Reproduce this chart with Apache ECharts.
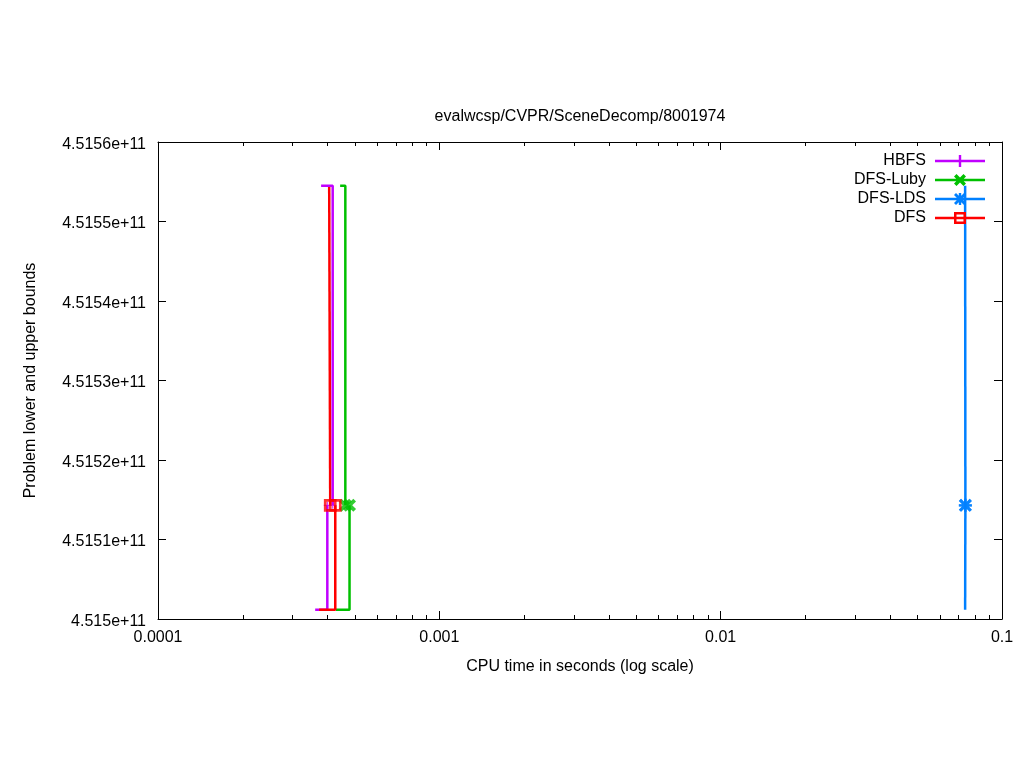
<!DOCTYPE html>
<html>
<head>
<meta charset="utf-8">
<script src="https://cdn.jsdelivr.net/npm/echarts@6/dist/echarts.min.js"></script>
<style>
html,body{margin:0;padding:0;background:#fff;}
#chart{width:1024px;height:768px;}
</style>
</head>
<body>
<div id="chart"></div>
<script>
// ---- texts ----
const chartTitle = 'evalwcsp/CVPR/SceneDecomp/8001974';
const xAxisName = 'CPU time in seconds (log scale)';
const yAxisName = 'Problem lower and upper bounds';

// ---- legend / series names & colours ----
const solverNames = ['HBFS', 'DFS-Luby', 'DFS-LDS', 'DFS'];
const solverColors = ['#c000ff', '#00c000', '#0080ff', '#ff0000'];

// ---- axes ----
const xMin = 0.0001, xMax = 0.1;
const xMinorTicks = [0.0002,0.0003,0.0004,0.0005,0.0006,0.0007,0.0008,0.0009,
                     0.002,0.003,0.004,0.005,0.006,0.007,0.008,0.009,
                     0.02,0.03,0.04,0.05,0.06,0.07,0.08,0.09];
const yMin = 451500000000, yMax = 451560000000, yStep = 10000000;

// ---- data: [time (s), bound] ----
const hbfsUpper = [[0.000380, 451554500000], [0.0004178, 451514300000]];
const hbfsLower = [[0.000362, 451501150000], [0.0003998, 451514300000]];
const lubyUpper = [[0.000444, 451554500000], [0.0004633, 451514300000]];
const lubyLower = [[0.000429, 451501150000], [0.0004795, 451514300000]];
const ldsUpper  = [[0.07395, 451554500000], [0.0741, 451514300000]];
const ldsLower  = [[0.07395, 451501150000], [0.0741, 451514300000]];
const dfsUpper  = [[0.000406, 451554500000], [0.0004094, 451514300000]];
const dfsLower  = [[0.000374, 451501150000], [0.0004267, 451514300000]];

const FONT = '"Liberation Sans", Arial, sans-serif';

// marker symbols
const plusPath = 'path://M5,0H7V12H5Z M0,5H12V7H0Z';
const crossPath = 'path://M0,2.5L2.5,0L6,3.5L9.5,0L12,2.5L8.5,6L12,9.5L9.5,12L6,8.5L2.5,12L0,9.5L3.5,6Z';
const starPath = 'path://M5,0H7V12H5Z M0,5H12V7H0Z M0,2L2,0L6,4L10,0L12,2L8,6L12,10L10,12L6,8L2,12L0,10L4,6Z';

// legend icons (50 x 12 box: line + marker)
const lineRect = 'M0,4.8H50V7.2H0Z';
const legendIcons = [
  'path://' + lineRect + ' M23.8,0H26.2V12H23.8Z',
  'path://' + lineRect + ' M19,2.5L21.5,0L25,3.5L28.5,0L31,2.5L27.5,6L31,9.5L28.5,12L25,8.5L21.5,12L19,9.5L22.5,6Z',
  'path://' + lineRect + ' M23.8,0H26.2V12H23.8Z M19,2L21,0L25,4L29,0L31,2L27,6L31,10L29,12L25,8L21,12L19,10L23,6Z',
  'path://' + lineRect + ' M19,0H31V12H19Z M21.5,2.5V9.5H28.5V2.5Z'
];

function fmtX(v) { return String(Number(v.toPrecision(6))); }
function fmtY(v) {
  let s = (v / 1e11).toFixed(4).replace(/0+$/, '').replace(/\.$/, '');
  return '{t|' + s + 'e+11}';
}

function stepLine(name, data, color, z) {
  return {
    name: name, type: 'line', data: data, step: 'end',
    symbol: 'none', showSymbol: false, silent: true, z: z,
    lineStyle: { color: color, width: 2.5 },
    itemStyle: { color: color },
    emphasis: { disabled: true }
  };
}
function markers(name, pts, color, symbol, size, z, hollow) {
  return {
    name: name, type: 'scatter', data: pts, symbol: symbol, symbolSize: size,
    silent: true, z: z,
    itemStyle: hollow ? { color: 'rgba(0,0,0,0)', borderColor: color, borderWidth: 2.7 }
                      : { color: color, borderWidth: 0 },
    emphasis: { disabled: true }
  };
}

const axisLineStyle = { show: true, onZero: false, lineStyle: { color: '#000', width: 1 } };
const tickStyle = { show: true, inside: true, length: 8, lineStyle: { color: '#000', width: 1 } };

const chart = echarts.init(document.getElementById('chart'), null, { renderer: 'canvas' });
const option = {
  animation: false,
  backgroundColor: '#fff',
  textStyle: { fontFamily: FONT },
  title: {
    text: chartTitle, left: 580, top: 109, padding: 0, textAlign: 'center',
    textStyle: { fontSize: 16, fontWeight: 'normal', color: '#000', fontFamily: FONT }
  },
  grid: { left: 158, right: 22, top: 142, bottom: 149, containLabel: false },
  legend: {
    orient: 'vertical', right: 39, top: 153, padding: 0,
    itemWidth: 50, itemHeight: 12, itemGap: 3, align: 'right', selectedMode: false,
    textStyle: { fontSize: 16, color: '#000', fontFamily: FONT, padding: [0, 4, 0, 0] },
    data: solverNames.map((n, i) => ({ name: n, icon: legendIcons[i], itemStyle: { color: solverColors[i], borderWidth: 0 } }))
  },
  xAxis: [
    {
      type: 'log', logBase: 10, min: xMin, max: xMax, position: 'bottom',
      axisLine: axisLineStyle, axisTick: tickStyle, splitLine: { show: false },
      axisLabel: { color: '#000', fontSize: 16, fontFamily: FONT, margin: 11, formatter: fmtX },
      name: xAxisName, nameLocation: 'middle', nameGap: 40,
      nameTextStyle: { color: '#000', fontSize: 16, fontFamily: FONT }
    },
    {
      type: 'log', logBase: 10, min: xMin, max: xMax, position: 'top',
      axisLine: axisLineStyle, axisTick: tickStyle, splitLine: { show: false },
      axisLabel: { show: false }
    }
  ],
  yAxis: [
    {
      type: 'value', min: yMin, max: yMax, interval: yStep, position: 'left',
      axisLine: axisLineStyle, axisTick: tickStyle, splitLine: { show: false },
      axisLabel: {
        color: '#000', fontSize: 16, fontFamily: FONT, margin: 12, formatter: fmtY,
        rich: { t: { fontSize: 16, fontFamily: FONT, color: '#000', padding: [5, 0, 0, 0] } }
      },
      name: yAxisName, nameLocation: 'middle', nameGap: 119, nameRotate: 90,
      nameTextStyle: { color: '#000', fontSize: 16, fontFamily: FONT }
    },
    {
      type: 'value', min: yMin, max: yMax, interval: yStep, position: 'right',
      axisLine: axisLineStyle, axisTick: tickStyle, splitLine: { show: false },
      axisLabel: { show: false }
    }
  ],
  series: [
    {
      type: 'custom', silent: true, z: 1, xAxisIndex: 0, yAxisIndex: 0,
      data: xMinorTicks.map(v => [v, yMin]),
      renderItem: function (params, api) {
        const v = api.value(0);
        const b = api.coord([v, yMin]);
        const t = api.coord([v, yMax]);
        const x = Math.round(b[0]) + 0.5;
        return {
          type: 'group', children: [
            { type: 'line', shape: { x1: x, y1: Math.round(b[1]), x2: x, y2: Math.round(b[1]) - 4 }, style: { stroke: '#000', lineWidth: 1 } },
            { type: 'line', shape: { x1: x, y1: Math.round(t[1]), x2: x, y2: Math.round(t[1]) + 4 }, style: { stroke: '#000', lineWidth: 1 } }
          ]
        };
      }
    },
    stepLine('DFS', dfsUpper, solverColors[3], 2),
    stepLine('HBFS', hbfsUpper, solverColors[0], 3),
    stepLine('HBFS', hbfsLower, solverColors[0], 3),
    stepLine('DFS-Luby', lubyUpper, solverColors[1], 3),
    stepLine('DFS-Luby', lubyLower, solverColors[1], 3),
    stepLine('DFS-LDS', ldsUpper, solverColors[2], 3),
    stepLine('DFS-LDS', ldsLower, solverColors[2], 3),
    stepLine('DFS', dfsLower, solverColors[3], 4),
    markers('HBFS', [hbfsUpper[1], hbfsLower[1]], solverColors[0], plusPath, 7, 5, false),
    markers('DFS-Luby', [lubyUpper[1], lubyLower[1]], solverColors[1], crossPath, 13, 5, false),
    markers('DFS-LDS', [ldsUpper[1], ldsLower[1]], solverColors[2], starPath, 13, 5, false),
    markers('DFS', [dfsUpper[1], dfsLower[1]], solverColors[3], 'rect', 10, 6, true)
  ]
};
chart.setOption(option);
</script>
</body>
</html>
